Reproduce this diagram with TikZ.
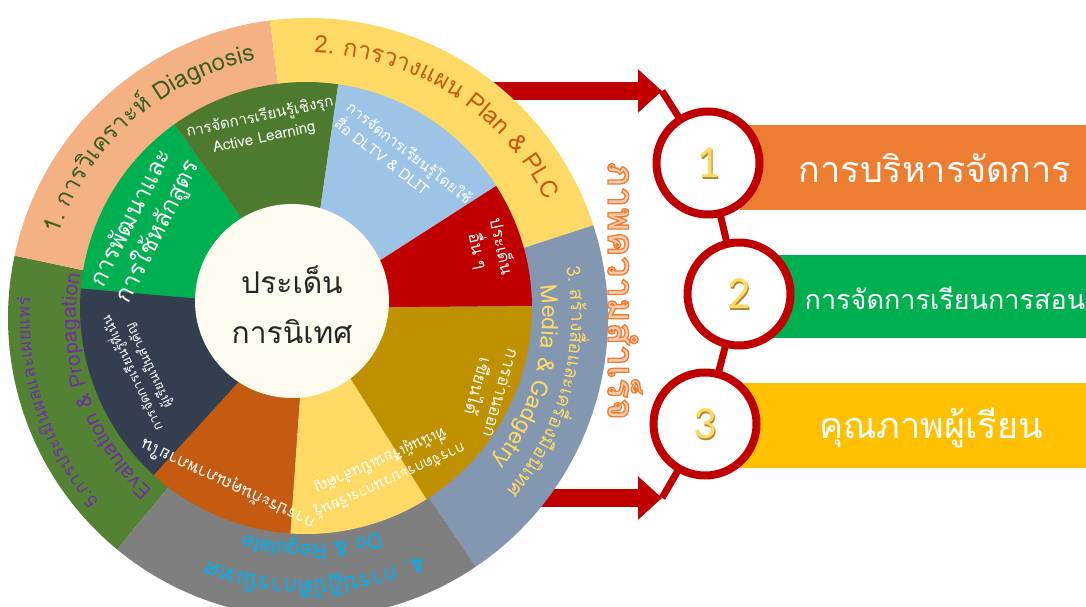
\documentclass[tikz,border=0pt]{standalone}
\usepackage{fontspec}
\newfontfamily\thai[Script=Thai]{Loma}
\newfontfamily\numfont{Carlito}
\usetikzlibrary{decorations.text,arrows.meta}
\definecolor{peach}{HTML}{F4B183}
\definecolor{yel}{HTML}{FFD966}
\definecolor{bluegrey}{HTML}{8497B0}
\definecolor{greyring}{HTML}{7F7F7F}
\definecolor{greenring}{HTML}{548235}
\definecolor{bgreen}{HTML}{00B050}
\definecolor{dgreen}{HTML}{4E7A30}
\definecolor{lblue}{HTML}{9DC3E6}
\definecolor{dred}{HTML}{C00000}
\definecolor{gold}{HTML}{BF9000}
\definecolor{rust}{HTML}{C55A11}
\definecolor{navy}{HTML}{333F50}
\definecolor{cream}{HTML}{FDFAEF}
\definecolor{barorange}{HTML}{ED7D31}
\definecolor{baryellow}{HTML}{FFC000}
\definecolor{txtgreen}{HTML}{3B5E22}
\definecolor{txtpurple}{HTML}{7030A0}
\definecolor{txtblue}{HTML}{00B0F0}
\definecolor{succfill}{HTML}{F8CBAD}
\definecolor{numshadow}{HTML}{B08A30}
\tikzset{
  conn/.style={draw=dred, line width=7pt},
  bigarrow/.style={draw=dred, line width=18pt, -{Triangle[length=24pt,width=42pt]}},
  numcirc/.style={circle, draw=dred, line width=8pt, fill=white, minimum size=103pt, inner sep=0pt},
  numtxt/.style={font=\numfont\fontsize{46}{46}\selectfont, text=yel, inner sep=0pt},
  numshd/.style={font=\numfont\fontsize{46}{46}\selectfont, text=numshadow, inner sep=0pt},
  bartxt/.style={font=\thai\fontsize{36}{40}\selectfont, text=white, inner sep=0pt},
  sectxt/.style={align=center, text=white, inner sep=0pt},
}
\newcommand\pieslice[4]{\fill[#1] (0,0) -- (#2:#4) arc[start angle=#2, end angle=#3, radius=#4] -- cycle;}
\newcommand\ringtext[5]{\path[decorate, decoration={text along path, text align=center, text={|#4|#5}}] (#2:#1) arc[start angle=#2, end angle=#3, radius=#1];}
\begin{document}
\begin{tikzpicture}[x=1pt,y=1pt]
\useasboundingbox (0,0) rectangle (1086,606);
% bars
\fill[barorange] (740,396) rectangle (1086,481);
\fill[bgreen] (760,268) rectangle (1086,351);
\fill[baryellow] (740,138) rectangle (1086,223);
\node[bartxt] (t1) at (935,438) {การบริหารจัดการ};
\node[bartxt, font=\thai\fontsize{27}{30}\selectfont] (t2) at (945,308) {การจัดการเรียนการสอน};
\node[bartxt] (t3) at (931,178) {คุณภาพผู้เรียน};
% arrows and connectors
\coordinate (a1s) at (440,515);
\coordinate (a1t) at (662,515);
\coordinate (a2s) at (480,108);
\coordinate (a2t) at (662,108);
\coordinate (p1) at (708,443);
\coordinate (p2) at (739,312);
\coordinate (p3) at (705,182);
\draw[bigarrow] (a1s) -- (a1t);
\draw[bigarrow] (a2s) -- (a2t);
\draw[conn] (a1t) -- (p1) -- (p2) -- (p3) -- (a2t);
\node[numcirc] (c1) at (p1) {};
\node[numcirc] (c2) at (p2) {};
\node[numcirc] (c3) at (p3) {};
\node[numshd] (n1s) at ([shift={(1.6,-1.6)}]c1.center) {1};
\node[numshd] (n2s) at ([shift={(1.6,-1.6)}]c2.center) {2};
\node[numshd] (n3s) at ([shift={(1.6,-1.6)}]c3.center) {3};
\node[numtxt] (n1) at (c1.center) {1};
\node[numtxt] (n2) at (c2.center) {2};
\node[numtxt] (n3) at (c3.center) {3};
% outer ring
\begin{scope}[shift={(308,288)}]
\pieslice{greenring}{168}{230.5}{300}
\pieslice{peach}{97.3}{168}{300}
\pieslice{yel}{18}{97.3}{300}
\pieslice{bluegrey}{-56}{18}{300}
\pieslice{greyring}{230.5}{304}{300}
\end{scope}
% inner ring
\begin{scope}[shift={(306,298)}]
\pieslice{navy}{175}{227.7}{226}
\pieslice{bgreen}{125.6}{175}{226}
\pieslice{dgreen}{81.8}{125.6}{226}
\pieslice{lblue}{32.7}{81.8}{226}
\pieslice{dred}{0.5}{32.7}{226}
\pieslice{gold}{-57.8}{0.5}{226}
\pieslice{yel}{-94}{-57.8}{226}
\pieslice{rust}{227.7}{266}{226}
\end{scope}
\node[circle, fill=cream, minimum size=194pt, inner sep=0pt] (hub) at (292,305) {};
\node[font=\thai\fontsize{30}{50}\selectfont, align=center, text=black!85] (hubtxt) at (292,301) {ประเด็น\\การนิเทศ};
% ring texts
\begin{scope}[shift={(308,288)}]
\ringtext{263}{172}{91}{\thai\fontsize{24}{24}\selectfont\color{txtgreen}}{1. การ{วิ}เคราะ{ห์} Diagnosis}
\ringtext{265}{98}{17}{\thai\fontsize{24}{24}\selectfont\color{rust}}{2. การวางแผน Plan {\&} PLC}
\ringtext{263}{25}{-55}{\thai\fontsize{19}{19}\selectfont\color{yel}}{3. ส{ร้}าง{สื่}อและเค{รื่}อง{มื}อ{นิ}เทศ}
\ringtext{234}{25}{-55}{\thai\fontsize{23}{23}\selectfont\color{yel}}{Media {\&} Gadgetry}
\ringtext{262}{-40}{-137}{\thai\fontsize{23}{23}\selectfont\color{txtblue}}{4. การ{ปฏิ}{บั}{ติ}การ{นิ}เทศ}
\ringtext{226}{-45}{-133}{\thai\fontsize{21}{21}\selectfont\color{txtblue}}{Do {\&} Regulate}
\ringtext{278}{235}{162}{\thai\fontsize{18}{18}\selectfont\color{txtpurple}}{5.การประเ{มิ}นผลและเผยแพ{ร่}}
\ringtext{232}{235}{162}{\thai\fontsize{21}{21}\selectfont\color{txtpurple}}{Evaluation {\&} Propagation}
\end{scope}
% sector texts
\node[sectxt, rotate=63, font=\thai\fontsize{24}{30}\selectfont] (s1) at (145,381) {การพัฒนาและ\\การใช้หลักสูตร};
\node[sectxt, rotate=12, font=\thai\fontsize{15}{21}\selectfont] (s2) at (262,479) {การจัดการเรียนรู้เชิงรุก\\Active Learning};
\node[sectxt, align=left, rotate=-38, font=\thai\fontsize{15}{20}\selectfont] (s3) at (404,446) {การจัดการเรียนรู้โดยใช้\\สื่อ DLTV \& DLIT};
\node[sectxt, rotate=-78, font=\thai\fontsize{17}{24}\selectfont] (s4) at (490,357) {ประเด็น\\อื่น ๆ};
\node[sectxt, rotate=-106, font=\thai\fontsize{17}{24}\selectfont] (s5) at (490,216) {การอ่านออก\\เขียนได้};
\node[sectxt, rotate=-156, font=\thai\fontsize{15}{22}\selectfont] (s6) at (385,136) {การจัดกระบวนการเรียนรู้\\ที่เน้นผู้เรียนเป็นสำคัญ};
\node[sectxt, rotate=155, font=\thai\fontsize{17}{20}\selectfont] (s7) at (228,122) {การประกันคุณภาพภายใน};
\node[sectxt, rotate=115, font=\thai\fontsize{13}{18}\selectfont] (s8) at (140,236) {การจัดการเรียนรู้ที่เน้น\\ผู้เรียนเป็นสำคัญ};
\node[rotate=-90, font=\thai\bfseries\fontsize{37}{37}\selectfont, text=succfill] (succ) at (625,315) {\special{pdf:literal direct 2 Tr 1.3 w 0.93 0.49 0.19 RG}ภาพความสำเร็จ\special{pdf:literal direct 0 Tr}};
\end{tikzpicture}
\end{document}
